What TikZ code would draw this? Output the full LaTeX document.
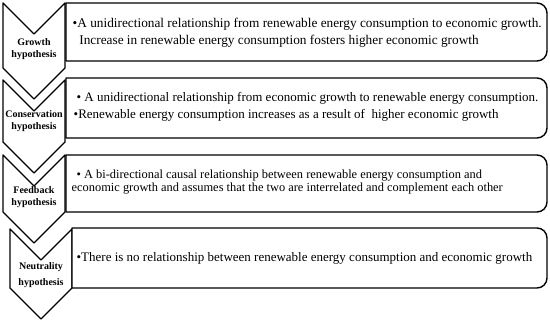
\documentclass[tikz,border=0pt]{standalone}
\usepackage{fontspec}
\setmainfont{Liberation Serif}
\usetikzlibrary{positioning}

\begin{document}
\begin{tikzpicture}[
  x=1pt, y=-1pt, line width=1.4pt, line join=round,
  chev/.style={draw=black, fill=white},
  box/.style={draw=black, fill=white},
  hyp/.style={font=\fontsize{10}{11.5}\selectfont\bfseries, align=center, inner sep=0pt},
  txt/.style={font=\fontsize{13}{16.5}\selectfont, align=left, anchor=west, inner sep=0pt}
]
\useasboundingbox (0,0) rectangle (550,324);

% chevrons: left, top, side length
\foreach \x/\y/\h in {3/3/65, 3/80/62, 3/155/57, 10/229/59}{
  \draw[chev] (\x,\y) -- ++(31,31) -- ++(31,-31) -- ++(0,\h) -- ++(-31,31) -- ++(-31,-31) -- cycle;
}

% boxes: left, top, bottom
\foreach \x/\t/\b in {66/3/61, 66/78/138, 66/155/212, 72/228/288}{
  \draw[box] (\x,\t) [rounded corners=10pt] -- (547,\t) -- (547,\b) [sharp corners] -- (\x,\b) -- cycle;
}

\node[hyp] (h1) at (34,49) {Growth\\hypothesis};
\node[hyp] (h2) at (34,121) {Conservation\\hypothesis};
\node[hyp] (h3) at (34,197) {Feedback\\hypothesis};
\node[hyp] (h4) at (41,275) {Neutrality\\[4pt]hypothesis};

\node[txt, font=\fontsize{13.3}{16.5}\selectfont] (t1) at (72,33) {\textbullet A unidirectional relationship from renewable energy consumption to economic growth.\\
  \hphantom{\textbullet}\hspace{2pt}Increase in renewable energy consumption fosters higher economic growth};
\node[txt] (t2) at (73,107) {\hspace{3pt}\textbullet\ A unidirectional relationship from economic growth to renewable energy consumption.\\
  \textbullet Renewable energy consumption increases as a result of\ \ higher economic growth};
\node[txt, font=\fontsize{12.4}{13.5}\selectfont] (t3) at (71,182) {\hspace{5pt}\textbullet\ A bi-directional causal relationship between renewable energy consumption and\\
  economic growth and assumes that the two are interrelated and complement each other};
\node[txt] (t4) at (76,258) {\textbullet There is no relationship between renewable energy consumption and economic growth};
\end{tikzpicture}
\end{document}
